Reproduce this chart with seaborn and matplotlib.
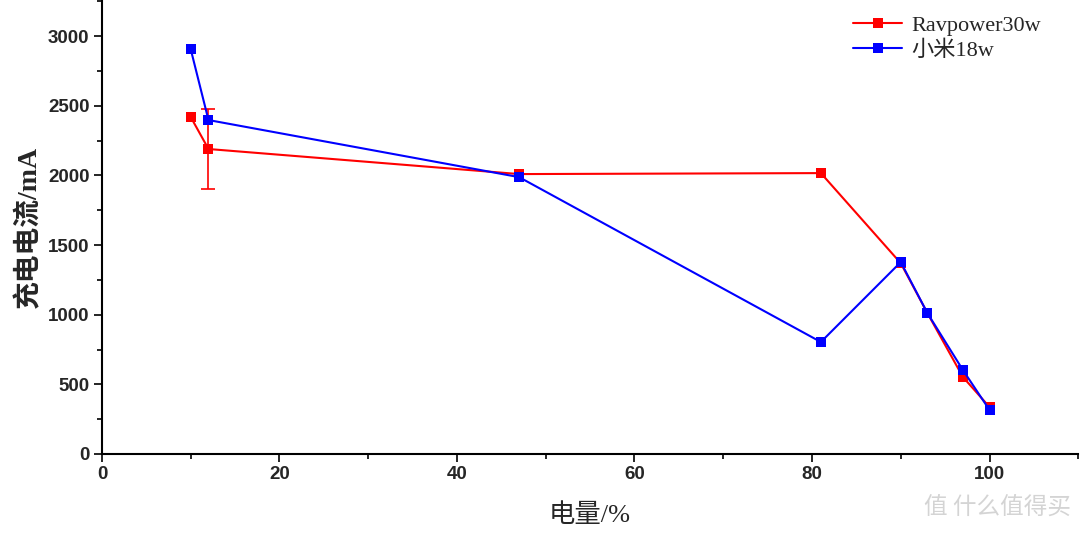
import pandas as pd
import matplotlib.pyplot as plt
import seaborn as sns
from matplotlib.ticker import MultipleLocator

sns.set_style("ticks")
plt.rcParams['font.family'] = ['Liberation Sans', 'Noto Sans CJK SC', 'DejaVu Sans']

# 数据
level = [10, 12, 47, 81, 90, 93, 97, 100]
rav_current = [2420, 2190, 2010, 2017, 1370, 1012, 553, 337]
mi_current = [2907, 2398, 1988, 804, 1378, 1012, 603, 316]
rav_err_idx = 1
rav_err = 285
series_names = ['Ravpower30w', '小米18w']
series_colors = ['#ff0000', '#0000ff']

df = pd.concat([
    pd.DataFrame({'level': level, 'current': rav_current, 'charger': series_names[0]}),
    pd.DataFrame({'level': level, 'current': mi_current, 'charger': series_names[1]}),
])

fig = plt.figure(figsize=(10.8, 5.36), dpi=100)
ax = fig.add_axes([0.0944, 0.153, 0.904, 0.847])

sns.lineplot(data=df, x='level', y='current', hue='charger', palette=series_colors,
             marker='s', markersize=7, markeredgewidth=0, linewidth=1.5,
             sort=False, estimator=None, ax=ax)

# 误差棒
ax.errorbar(level[rav_err_idx], rav_current[rav_err_idx], yerr=rav_err, fmt='none',
            ecolor=series_colors[0], elinewidth=1.2, capsize=5, capthick=1.2, zorder=1)

ax.set_xlim(0, 110)
ax.set_ylim(0, 3260)
ax.xaxis.set_major_locator(MultipleLocator(20))
ax.xaxis.set_minor_locator(MultipleLocator(10))
ax.yaxis.set_major_locator(MultipleLocator(500))
ax.yaxis.set_minor_locator(MultipleLocator(250))
ax.tick_params(which='major', direction='out', length=6, width=1.2, color='black', pad=3)
ax.tick_params(which='minor', direction='out', length=3.5, width=1.2, color='black')

for s in ['top', 'right']:
    ax.spines[s].set_visible(False)
for s in ['left', 'bottom']:
    ax.spines[s].set_linewidth(1.5)
    ax.spines[s].set_color('black')

for lab in ax.get_yticklabels():
    lab.set_fontweight('bold')
    lab.set_fontsize(13.5)
for lab in ax.get_xticklabels():
    lab.set_fontweight('bold')
    lab.set_fontsize(13.5)
    lab.set_family(['Liberation Sans Narrow', 'Liberation Sans'])

ax.set_ylabel('充电电流/mA', fontsize=20, fontweight='bold',
              family=['Liberation Serif', 'Noto Sans CJK SC'], labelpad=4)
ax.set_xlabel('电量/%', fontsize=19, family=['Liberation Serif', 'Noto Sans CJK SC'], labelpad=14)

leg = ax.legend(loc='upper right', bbox_to_anchor=(0.982, 1.01), frameon=False,
                prop={'family': ['Liberation Serif', 'Noto Sans CJK SC'], 'size': 16},
                handlelength=2.2, labelspacing=0.2, handletextpad=0.4)

fig.text(0.992, 0.03, '值 什么值得买', ha='right', va='bottom', fontsize=17,
         color='#d4d4d4', family=['Noto Sans CJK SC'])

fig.savefig('out.png', dpi=100)
